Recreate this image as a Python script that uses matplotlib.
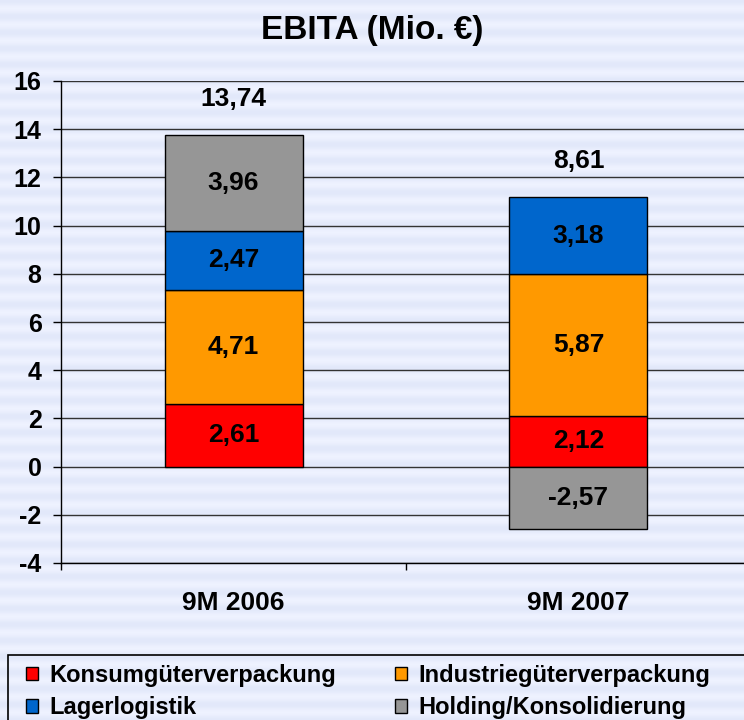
import matplotlib.pyplot as plt
import numpy as np
from matplotlib.colors import LinearSegmentedColormap
from matplotlib.patches import Rectangle

# Data
periods = ['9M 2006', '9M 2007']
segments = ['Konsumgüterverpackung', 'Industriegüterverpackung',
            'Lagerlogistik', 'Holding/Konsolidierung']
konsum = [2.61, 2.12]
industrie = [4.71, 5.87]
lager = [2.47, 3.18]
holding = [3.96, -2.57]
totals = [13.74, 8.61]

colors = ['#FF0000', '#FF9900', '#0066CC', '#969696']

plt.rcParams['font.family'] = ['Liberation Sans', 'DejaVu Sans']
plt.rcParams['font.weight'] = 'bold'
plt.rcParams['axes.unicode_minus'] = False

fig = plt.figure(figsize=(7.44, 7.2), dpi=100)

# striped background
bg = fig.add_axes([0, 0, 1, 1], zorder=-10)
rows = np.arange(720)
stripes = 0.5 + 0.5 * np.cos(2 * np.pi * rows / 16.0)
cmap = LinearSegmentedColormap.from_list('bg', ['#EEF2FF', '#E2E8FA'])
bg.imshow(stripes[:, None], aspect='auto', cmap=cmap, extent=[0, 1, 0, 1])
bg.axis('off')

ax = fig.add_axes([61 / 744, 1 - 563 / 720, 690 / 744, 482 / 720])
ax.set_facecolor('none')

x = np.arange(len(periods))
width = 0.4
series = [konsum, industrie, lager, holding]
pos_base = np.zeros(len(periods))
neg_base = np.zeros(len(periods))
handles = []
for vals, col, name in zip(series, colors, segments):
    vals = np.array(vals)
    bottoms = np.where(vals >= 0, pos_base, neg_base)
    bars = ax.bar(x, vals, width, bottom=bottoms, color=col, edgecolor='black',
                  linewidth=1, label=name, zorder=3)
    handles.append(bars)
    for b, v, bot in zip(bars, vals, bottoms):
        ax.text(b.get_x() + b.get_width() / 2, bot + v / 2,
                f'{v:.2f}'.replace('.', ','), ha='center', va='center',
                fontsize=19, fontweight='bold', zorder=4)
    pos_base = pos_base + np.where(vals >= 0, vals, 0)
    neg_base = neg_base + np.where(vals < 0, vals, 0)

for xi, top, tot in zip(x, pos_base, totals):
    ax.text(xi, top + 1.5, f'{tot:.2f}'.replace('.', ','), ha='center',
            va='center', fontsize=19, fontweight='bold')

ax.set_xlim(-0.5, 1.5)
ax.set_ylim(-4, 16)
ax.set_yticks(np.arange(-4, 17, 2))
ax.yaxis.grid(True, color='#333333', linewidth=1)
ax.set_axisbelow(True)
ax.tick_params(axis='y', direction='out', length=6, width=1, labelsize=18, pad=8)
ax.set_xticks(x)
ax.set_xticklabels(periods, fontsize=19, fontweight='bold')
ax.tick_params(axis='x', which='major', length=0, pad=20)
ax.set_xticks([-0.5, 0.5, 1.5], minor=True)
ax.tick_params(axis='x', which='minor', direction='out', length=5, width=1)
for s in ['top', 'right']:
    ax.spines[s].set_visible(False)
for s in ['left', 'bottom']:
    ax.spines[s].set_linewidth(1)
for lab in ax.get_yticklabels():
    lab.set_fontweight('bold')

fig.text(0.5, 1 - 31 / 720, 'EBITA (Mio. €)', ha='center', va='center',
         fontsize=24, fontweight='bold')

# legend frame running off the edges
fig.patches.append(Rectangle((8 / 744, -0.05), 1.0, 0.05 + (720 - 655) / 720,
                             transform=fig.transFigure, facecolor='none',
                             edgecolor='black', linewidth=1.2))
order = [0, 2, 1, 3]
fig.legend([handles[i] for i in order], [segments[i] for i in order],
           ncol=2, loc='upper left',
           bbox_to_anchor=(14 / 744, 1 - 652 / 720), frameon=False,
           fontsize=17, handlelength=0.5, handleheight=0.5, handletextpad=0.5,
           columnspacing=2.5, labelspacing=0.4, borderpad=0.0)

fig.savefig('out.png', dpi=100)
